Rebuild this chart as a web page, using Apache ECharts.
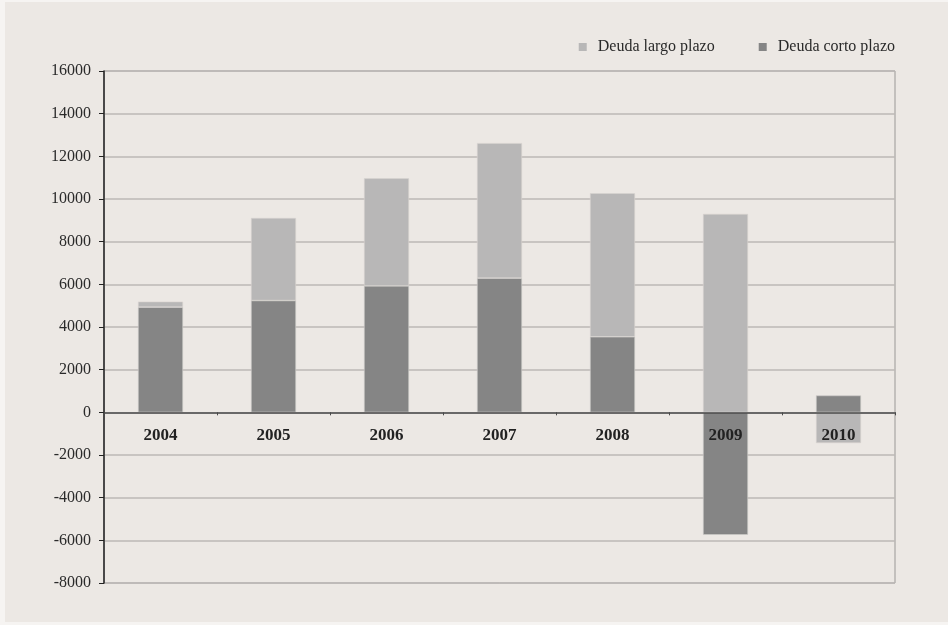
<!DOCTYPE html>
<html>
<head>
<meta charset="utf-8">
<script src="https://cdn.jsdelivr.net/npm/echarts@6/dist/echarts.min.js"></script>
<style>
  html, body { margin: 0; padding: 0; background: #f6f4f2; }
  #panel { position: absolute; left: 5px; top: 2px; width: 943px; height: 620px; background: #ECE8E4; }
  #chart { position: absolute; left: 0; top: 0; width: 948px; height: 625px; }
</style>
</head>
<body>
<div id="panel"></div>
<div id="chart"></div>
<script>
// Años y composición de la deuda (millones)
const years = ['2004', '2005', '2006', '2007', '2008', '2009', '2010'];
const deudaCortoPlazo = [4930, 5240, 5930, 6290, 3540, -5740, 790];
const deudaLargoPlazo = [260, 3870, 5040, 6330, 6730, 9300, -1440];
const yTicks = { min: -8000, max: 16000, step: 2000 };

const serif = '"Liberation Serif", "Times New Roman", serif';
const chart = echarts.init(document.getElementById('chart'), null, { renderer: 'canvas' });

const gridTop = 71, gridBottom = 42, chartH = 625;
// the category axis sits on the zero line, labels just beneath it
const plotH = chartH - gridTop - gridBottom;
const zeroOffset = -plotH * (0 - yTicks.min) / (yTicks.max - yTicks.min);

chart.setOption({
  backgroundColor: 'transparent',
  animation: false,
  legend: {
    data: ['Deuda largo plazo', 'Deuda corto plazo'],
    right: 48,
    top: 34,
    icon: 'rect',
    itemWidth: 8,
    itemHeight: 8,
    itemGap: 44,
    itemStyle: { borderWidth: 0 },
    textStyle: { fontFamily: serif, fontSize: 16, color: '#2a2a2a', padding: [0, 0, 0, 6] }
  },
  grid: {
    left: 104,
    right: 53,
    top: gridTop,
    bottom: gridBottom,
    show: true,
    borderColor: '#9a9896',
    borderWidth: 1,
    backgroundColor: 'transparent'
  },
  xAxis: {
    type: 'category',
    data: years,
    position: 'bottom',
    offset: zeroOffset,
    axisLine: { onZero: false, lineStyle: { color: '#4a4a4a', width: 1.5 } },
    axisTick: { show: true, length: 3, lineStyle: { color: '#4a4a4a' } },
    axisLabel: { fontFamily: serif, fontSize: 17, fontWeight: 'bold', color: '#222', margin: 15 },
    z: 10
  },
  yAxis: {
    type: 'value',
    min: yTicks.min,
    max: yTicks.max,
    interval: yTicks.step,
    axisLine: { show: true, lineStyle: { color: '#222', width: 1.5 } },
    axisTick: { show: true, length: 5, lineStyle: { color: '#222' } },
    axisLabel: { fontFamily: serif, fontSize: 16, color: '#2a2a2a', margin: 13, formatter: v => String(v) },
    splitLine: { lineStyle: { color: '#bcb9b6', width: 1.5 } }
  },
  series: [
    {
      name: 'Deuda corto plazo',
      type: 'bar',
      stack: 'deuda',
      barWidth: 45,
      data: deudaCortoPlazo,
      itemStyle: { color: '#858585', borderColor: '#cfccc9', borderWidth: 0.6 }
    },
    {
      name: 'Deuda largo plazo',
      type: 'bar',
      stack: 'deuda',
      barWidth: 45,
      data: deudaLargoPlazo,
      itemStyle: { color: '#b8b7b7', borderColor: '#d6d3d0', borderWidth: 0.6 }
    }
  ]
});
</script>
</body>
</html>
